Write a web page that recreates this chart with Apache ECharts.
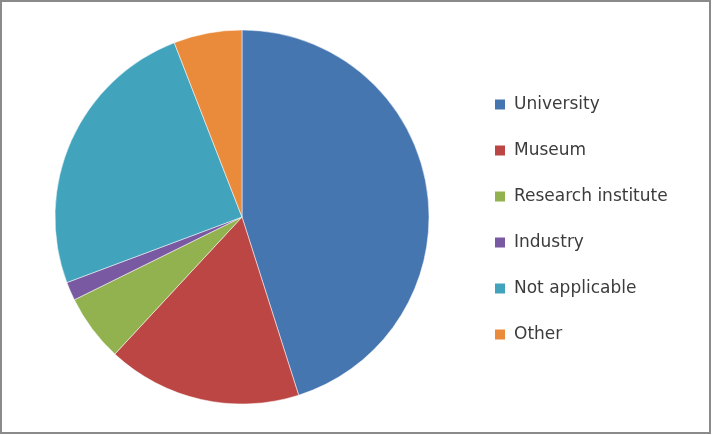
<!DOCTYPE html>
<html>
<head>
<meta charset="utf-8">
<script src="https://cdn.jsdelivr.net/npm/echarts@6/dist/echarts.min.js"></script>
<style>
  html, body { margin: 0; padding: 0; background: #fff; }
  #chart { width: 712px; height: 435px; }
</style>
</head>
<body>
<div id="chart"></div>
<script>
// data (share of respondents, %)
var categories = ['University', 'Museum', 'Research institute', 'Industry', 'Not applicable', 'Other'];
var values = [45.1, 16.8, 5.8, 1.6, 24.8, 5.9];
var colors = ['#4676b0', '#bb4643', '#92b250', '#7859a2', '#42a3bd', '#ea8b3c'];

var chart = echarts.init(document.getElementById('chart'));

var pieData = categories.map(function (name, i) {
  return { name: name, value: values[i] };
});

var option = {
  animation: false,
  color: colors,
  legend: {
    orient: 'vertical',
    left: 490,
    top: 91,
    itemWidth: 10,
    itemHeight: 10,
    itemGap: 29,
    icon: 'rect',
    itemStyle: { borderWidth: 0 },
    textStyle: {
      fontFamily: 'DejaVu Sans',
      fontSize: 17,
      color: '#3c3c3c',
      padding: [0, 0, 0, 4]
    },
    data: categories
  },
  graphic: [{
    type: 'rect',
    shape: { x: 1, y: 1, width: 709, height: 432 },
    style: { fill: 'none', stroke: '#8a8a8a', lineWidth: 2 }
  }],
  series: [{
    type: 'pie',
    center: [242, 217],
    radius: 187,
    startAngle: 90,
    clockwise: true,
    label: { show: false },
    labelLine: { show: false },
    itemStyle: { borderColor: '#ffffff', borderWidth: 0.5 },
    emphasis: { disabled: true },
    data: pieData
  }]
};

chart.setOption(option);
</script>
</body>
</html>
